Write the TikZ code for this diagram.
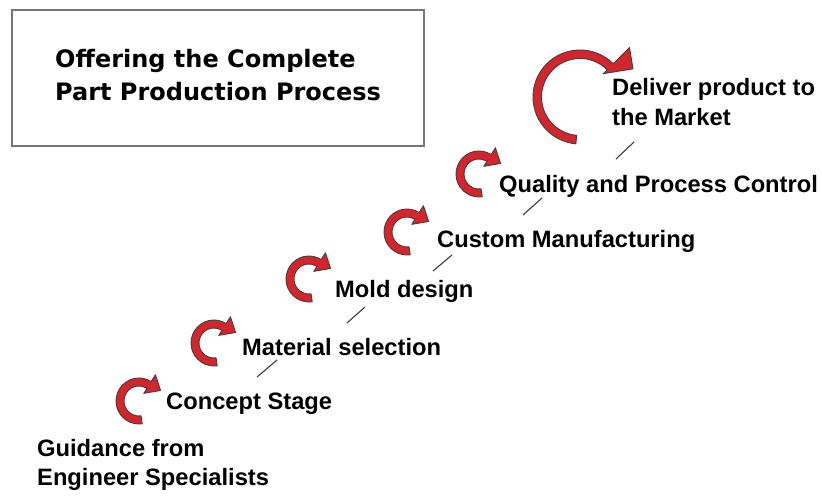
\documentclass[tikz,border=0pt]{standalone}
\usepackage{fontspec}
\setmainfont{Liberation Sans}
\newfontfamily\titlefont{DejaVu Sans}
\definecolor{arrred}{RGB}{212,36,44}
\definecolor{boxgray}{RGB}{118,118,118}
\definecolor{dashgray}{RGB}{60,60,60}
\def\arrstart{278}
% cx cy Ro Ri a1 hin hout ta tr
\newcommand\curvarrow[9]{%
  \begin{scope}[shift={(#1,#2)}]
    \filldraw[arrowbody] (#5:#3) arc[start angle=#5,end angle=\arrstart,radius=#3]
      -- (\arrstart:#4) arc[start angle=\arrstart,end angle=#5,radius=#4]
      -- (#5:#6) -- (#8:#9) -- (#5:#7) -- cycle;
  \end{scope}}
\tikzset{
  arrowbody/.style={fill=arrred, draw=black!75, line width=0.9pt, line join=round},
  lab/.style={anchor=base west, inner sep=0pt, font=\bfseries\fontsize{23.7}{28}\selectfont},
  ttl/.style={anchor=base west, inner sep=0pt, font=\titlefont\bfseries\fontsize{24}{28}\selectfont},
  tick/.style={draw=dashgray, line width=1.1pt},
  titlebox/.style={draw=boxgray, line width=1.6pt}
}
\begin{document}
\begin{tikzpicture}[x=1pt,y=1pt]
\useasboundingbox (0,0) rectangle (822,496);
% title box
\draw[titlebox] (12,486) rectangle (424,350);
\node[ttl] (t1) at (55,428) {Offering the Complete};
\node[ttl] (t2) at (55,395) {Part Production Process};
% labels
\node[lab] (g1) at (37,40) {Guidance from};
\node[lab] (g2) at (37,11) {Engineer Specialists};
\node[lab] (c) at (166,87) {Concept Stage};
\node[lab] (m) at (242,141) {Material selection};
\node[lab] (md) at (335,199) {Mold design};
\node[lab] (cm) at (437,248) {Custom Manufacturing};
\node[lab] (q) at (499,303) {Quality and Process Control};
\node[lab] (d1) at (612,400) {Deliver product to};
\node[lab] (d2) at (612,370) {the Market};
% curved arrows
\curvarrow{139}{95}{23}{15}{58}{9}{31}{26}{24}
\curvarrow{214}{153}{23}{15}{58}{9}{31}{26}{24}
\curvarrow{309}{217}{23}{15}{58}{9}{31}{26}{24}
\curvarrow{407}{264}{23}{15}{58}{9}{31}{26}{24}
\curvarrow{479}{322}{23}{15}{58}{9}{31}{26}{24}
\def\arrstart{265}
\curvarrow{580}{399}{47}{38.5}{45}{33}{70}{28}{60}
% short ticks
\coordinate (a1) at (257,119); \coordinate (b1) at (277,136);
\coordinate (a2) at (347,173); \coordinate (b2) at (365,189);
\coordinate (a3) at (433,225); \coordinate (b3) at (452,241);
\coordinate (a4) at (523,281); \coordinate (b4) at (542,298);
\coordinate (a5) at (616,337); \coordinate (b5) at (634,354);
\draw[tick] (a1) -- (b1);
\draw[tick] (a2) -- (b2);
\draw[tick] (a3) -- (b3);
\draw[tick] (a4) -- (b4);
\draw[tick] (a5) -- (b5);
\end{tikzpicture}
\end{document}
